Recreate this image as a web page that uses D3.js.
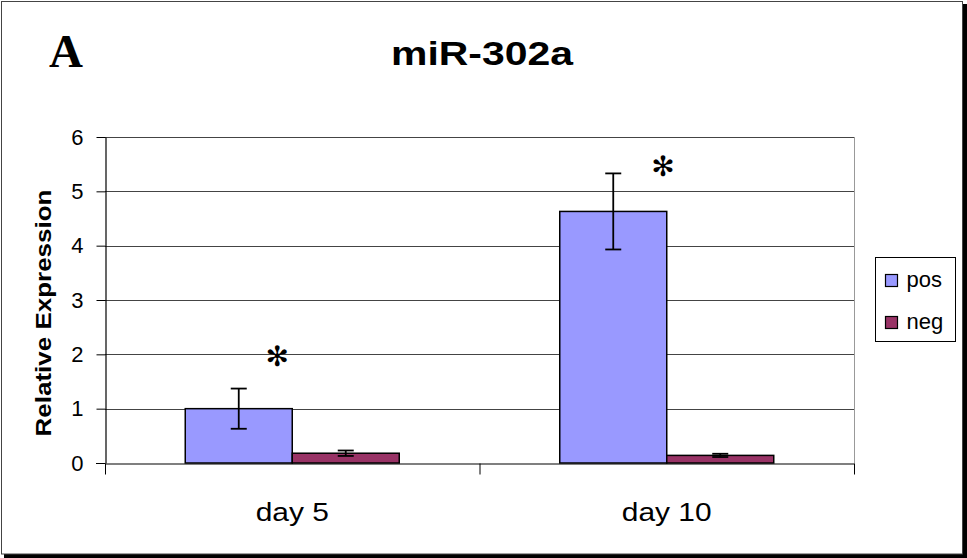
<!DOCTYPE html>
<html>
<head>
<meta charset="utf-8">
<script src="https://cdn.jsdelivr.net/npm/d3@7"></script>
<style>
  body { margin: 0; background: #fff; }
  svg { display: block; font-family: "Liberation Sans", Arial, sans-serif; }
</style>
</head>
<body>
<script>
// data
const days = ["day 5", "day 10"];
const series = ["pos", "neg"];
const posValues = [1.0, 4.63];
const posErrors = [0.37, 0.70];
const negValues = [0.18, 0.14];
const negErrors = [0.05, 0.03];
const yTicks = [0, 1, 2, 3, 4, 5, 6];
const colors = ["#9999ff", "#993366"];
// significance marks: position in category units and value units
const sigX = [0.46, 1.49];
const sigY = [1.96, 5.46];

const width = 967;
const height = 558;
const marginLeft = 105;
const marginRight = 113;
const marginTop = 137;
const marginBottom = 95;

const svg = d3
  .select("body")
  .append("svg")
  .attr("width", width)
  .attr("height", height);

// frame with drop shadow
svg.append("rect")
  .attr("x", 4).attr("y", 4)
  .attr("width", width - 4).attr("height", height - 4)
  .attr("fill", "#000");
svg.append("rect")
  .attr("x", 1.5).attr("y", 1.5)
  .attr("width", 961).attr("height", 552.5)
  .attr("fill", "#fff")
  .attr("stroke", "#444")
  .attr("stroke-width", 1);

const x0 = d3.scaleBand()
  .domain(days)
  .range([marginLeft, width - marginRight]);
const barW = x0.bandwidth() / 3.5; // gap width 150%
const x1 = d3.scaleBand()
  .domain(series)
  .range([0.75 * barW, 2.75 * barW]);
const xc = d3.scaleLinear()
  .domain([0, days.length])
  .range([marginLeft, width - marginRight]);
const y = d3.scaleLinear()
  .domain([0, 6])
  .range([height - marginBottom, marginTop]);

// gridlines
svg.append("g")
  .selectAll("line")
  .data(yTicks.slice(1))
  .enter()
  .append("line")
  .attr("x1", marginLeft)
  .attr("x2", width - marginRight)
  .attr("y1", d => Math.round(y(d)) + 0.5)
  .attr("y2", d => Math.round(y(d)) + 0.5)
  .attr("stroke", "#444")
  .attr("stroke-width", 1.2);

// plot area border (right side)
svg.append("line")
  .attr("x1", width - marginRight + 0.5)
  .attr("x2", width - marginRight + 0.5)
  .attr("y1", marginTop)
  .attr("y2", height - marginBottom)
  .attr("stroke", "#999");

// bars
const rows = days.map((d, i) => ({
  day: d,
  vals: [
    { key: "pos", v: posValues[i], e: posErrors[i] },
    { key: "neg", v: negValues[i], e: negErrors[i] }
  ]
}));

const groups = svg.append("g")
  .selectAll("g")
  .data(rows)
  .enter()
  .append("g")
  .attr("transform", d => `translate(${x0(d.day)},0)`);

groups.selectAll("rect")
  .data(d => d.vals)
  .enter()
  .append("rect")
  .attr("x", d => x1(d.key))
  .attr("y", d => y(d.v))
  .attr("width", x1.bandwidth())
  .attr("height", d => y(0) - y(d.v))
  .attr("fill", (d, i) => colors[i])
  .attr("stroke", "#000")
  .attr("stroke-width", 1.5);

// error bars
const cap = 8;
const err = groups.selectAll("g.err")
  .data(d => d.vals)
  .enter()
  .append("g")
  .attr("class", "err")
  .attr("stroke", "#000")
  .attr("stroke-width", 1.8);
err.append("line")
  .attr("x1", d => x1(d.key) + x1.bandwidth() / 2)
  .attr("x2", d => x1(d.key) + x1.bandwidth() / 2)
  .attr("y1", d => y(d.v + d.e))
  .attr("y2", d => y(d.v - d.e));
err.append("line")
  .attr("x1", d => x1(d.key) + x1.bandwidth() / 2 - cap)
  .attr("x2", d => x1(d.key) + x1.bandwidth() / 2 + cap)
  .attr("y1", d => y(d.v + d.e))
  .attr("y2", d => y(d.v + d.e));
err.append("line")
  .attr("x1", d => x1(d.key) + x1.bandwidth() / 2 - cap)
  .attr("x2", d => x1(d.key) + x1.bandwidth() / 2 + cap)
  .attr("y1", d => y(d.v - d.e))
  .attr("y2", d => y(d.v - d.e));

// y axis
const yAxis = d3.axisLeft(y)
  .tickValues(yTicks)
  .tickFormat(d3.format("d"))
  .tickSize(9)
  .tickPadding(13)
  .tickSizeOuter(0);
const yg = svg.append("g")
  .attr("transform", `translate(${marginLeft + 0.5},0)`)
  .call(yAxis)
  .attr("font-size", 22)
  .attr("font-family", "Liberation Sans, Arial, sans-serif");
yg.select(".domain").attr("stroke", "#000").attr("stroke-width", 1.2);
yg.selectAll(".tick line").attr("stroke", "#000");
yg.selectAll("text").attr("fill", "#000");

// x axis with category boundary ticks
const xAxis = d3.axisBottom(xc)
  .tickValues(d3.range(0, days.length + 1))
  .tickSize(11)
  .tickFormat("")
  .tickSizeOuter(0);
const xg = svg.append("g")
  .attr("transform", `translate(0,${Math.round(y(0)) + 0.5})`)
  .call(xAxis);
xg.select(".domain").attr("stroke", "#000").attr("stroke-width", 1.2);
xg.selectAll(".tick line").attr("stroke", "#000");
// extend x axis line to the left tick
svg.append("line")
  .attr("x1", marginLeft - 9)
  .attr("x2", marginLeft)
  .attr("y1", Math.round(y(0)) + 0.5)
  .attr("y2", Math.round(y(0)) + 0.5)
  .attr("stroke", "#000");

// category labels, slightly widened like the original rendering
svg.append("g")
  .selectAll("text")
  .data(days)
  .enter()
  .append("text")
  .attr("x", d => x0(d) + x0.bandwidth() / 2)
  .attr("y", 521)
  .attr("text-anchor", "middle")
  .attr("font-size", 26)
  .text(d => d)
  .each(function() {
    const w = this.getComputedTextLength();
    d3.select(this)
      .attr("textLength", w * 1.15)
      .attr("lengthAdjust", "spacingAndGlyphs");
  });

// significance asterisks
svg.append("g")
  .selectAll("text")
  .data(sigX)
  .enter()
  .append("text")
  .attr("x", d => xc(d))
  .attr("y", (d, i) => y(sigY[i]))
  .attr("text-anchor", "middle")
  .attr("dominant-baseline", "central")
  .attr("font-family", "DejaVu Sans")
  .attr("font-weight", "bold")
  .attr("font-size", 28)
  .text("\u273B");

// titles
svg.append("text")
  .attr("x", 482)
  .attr("y", 65)
  .attr("text-anchor", "middle")
  .attr("font-size", 33)
  .attr("font-weight", "bold")
  .attr("textLength", 182)
  .attr("lengthAdjust", "spacingAndGlyphs")
  .text("miR-302a");

svg.append("text")
  .attr("x", 66)
  .attr("y", 67)
  .attr("text-anchor", "middle")
  .attr("font-family", "Liberation Serif, Times New Roman, serif")
  .attr("font-size", 47)
  .attr("font-weight", "bold")
  .text("A");

svg.append("text")
  .attr("transform", `translate(51,313) rotate(-90)`)
  .attr("text-anchor", "middle")
  .attr("font-size", 22.5)
  .attr("font-weight", "bold")
  .attr("textLength", 247)
  .attr("lengthAdjust", "spacingAndGlyphs")
  .text("Relative Expression");

// legend
const legend = svg.append("g")
  .attr("transform", "translate(875.5,257.5)");
legend.append("rect")
  .attr("width", 80)
  .attr("height", 84)
  .attr("fill", "#fff")
  .attr("stroke", "#000");
const li = legend.selectAll("g.item")
  .data(series)
  .enter()
  .append("g")
  .attr("class", "item")
  .attr("transform", (d, i) => `translate(10,${17 + i * 42})`);
li.append("rect")
  .attr("width", 12)
  .attr("height", 12)
  .attr("fill", (d, i) => colors[i])
  .attr("stroke", "#000")
  .attr("stroke-width", 1.2);
li.append("text")
  .attr("x", 21)
  .attr("y", 12)
  .attr("font-size", 22)
  .text(d => d);
</script>
</body>
</html>
